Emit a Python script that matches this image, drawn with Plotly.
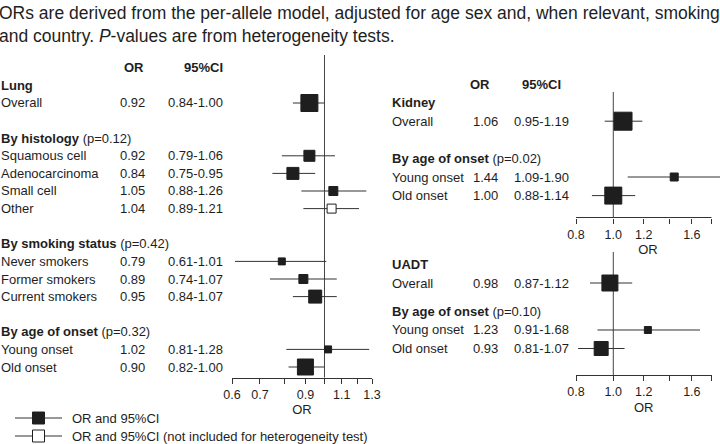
import math
import plotly.graph_objects as go

W, H = 720, 444

# ---------------- data ----------------
title_lines = [
    "ORs are derived from the per-allele model, adjusted for age sex and, when relevant, smoking",
    "and country. <i>P</i>-values are from heterogeneity tests.",
]
column_headers = ["OR", "95%CI"]

lung_groups = ["Lung", "By histology", "By smoking status", "By age of onset"]
lung_group_p = ["", "(p=0.12)", "(p=0.42)", "(p=0.32)"]
lung_labels = ["Overall", "Squamous cell", "Adenocarcinoma", "Small cell", "Other",
               "Never smokers", "Former smokers", "Current smokers", "Young onset", "Old onset"]
lung_group_of = [0, 1, 1, 1, 1, 2, 2, 2, 3, 3]
lung_or = [0.92, 0.92, 0.84, 1.05, 1.04, 0.79, 0.89, 0.95, 1.02, 0.90]
lung_lo = [0.84, 0.79, 0.75, 0.88, 0.89, 0.61, 0.74, 0.84, 0.81, 0.82]
lung_hi = [1.00, 1.06, 0.95, 1.26, 1.21, 1.01, 1.07, 1.07, 1.28, 1.00]
lung_in_test = [True, True, True, True, False, True, True, True, True, True]

kidney_groups = ["Kidney", "By age of onset"]
kidney_group_p = ["", "(p=0.02)"]
kidney_labels = ["Overall", "Young onset", "Old onset"]
kidney_group_of = [0, 1, 1]
kidney_or = [1.06, 1.44, 1.00]
kidney_lo = [0.95, 1.09, 0.88]
kidney_hi = [1.19, 1.90, 1.14]
kidney_in_test = [True, True, True]

uadt_groups = ["UADT", "By age of onset"]
uadt_group_p = ["", "(p=0.10)"]
uadt_labels = ["Overall", "Young onset", "Old onset"]
uadt_group_of = [0, 1, 1]
uadt_or = [0.98, 1.23, 0.93]
uadt_lo = [0.87, 0.91, 0.81]
uadt_hi = [1.12, 1.68, 1.07]
uadt_in_test = [True, True, True]

lung_ticks = [0.6, 0.7, 0.8, 0.9, 1.0, 1.1, 1.2, 1.3]
lung_tick_labels = ["0.6", "0.7", "", "0.9", "", "1.1", "", "1.3"]
right_ticks = [0.8, 1.0, 1.2, 1.4, 1.6, 1.8]
right_tick_labels = ["0.8", "1.0", "1.2", "", "1.6", ""]

legend_labels = ["OR and 95%CI", "OR and 95%CI (not included for heterogeneity test)"]

# ---------------- style ----------------
FONT = "Liberation Sans, Arial, Helvetica, sans-serif"
INK = "#1e1e1e"
LINE = "#333333"
FS = 13

lung_box = [17, 11, 12, 9, 9, 7, 9, 13, 7, 16]
kidney_box = [18, 8, 17]
uadt_box = [16, 7, 14]


def assign_rows(group_of, n_groups, start, gap):
    title_rows, item_rows = [], []
    r = start
    for g in range(n_groups):
        if g > 0:
            r += gap
        title_rows.append(r)
        for gg in group_of:
            if gg == g:
                r += 1
                item_rows.append(r)
    return title_rows, item_rows


# panel geometry in pixels
panels = [
    dict(key="lung", ax="", groups=lung_groups, gp=lung_group_p, labels=lung_labels,
         gof=lung_group_of, orv=lung_or, lo=lung_lo, hi=lung_hi, intest=lung_in_test,
         box=lung_box, header=True, start=1, gap=2,
         p0=67.8, step=17.6, pax=377.5, ptop=55,
         xlo=0.6, xhi=1.3, px0=232, px1=372, xend=1.3,
         ticks=lung_ticks, tlabels=lung_tick_labels,
         colx=[1, 147, 225], headx=[146, 225]),
    dict(key="kidney", ax="2", groups=kidney_groups, gp=kidney_group_p, labels=kidney_labels,
         gof=kidney_group_of, orv=kidney_or, lo=kidney_lo, hi=kidney_hi, intest=kidney_in_test,
         box=kidney_box, header=True, start=1, gap=2,
         p0=84, step=18.6, pax=217.5, ptop=92,
         xlo=0.8, xhi=1.8, px0=576, px1=711.5, xend=None,
         ticks=right_ticks, tlabels=right_tick_labels,
         colx=[392, 500, 571], headx=[492, 563]),
    dict(key="uadt", ax="3", groups=uadt_groups, gp=uadt_group_p, labels=uadt_labels,
         gof=uadt_group_of, orv=uadt_or, lo=uadt_lo, hi=uadt_hi, intest=uadt_in_test,
         box=uadt_box, header=False, start=0, gap=1.54,
         p0=264.5, step=18.5, pax=375, ptop=252,
         xlo=0.8, xhi=1.8, px0=576, px1=711.5, xend=1.8,
         ticks=right_ticks, tlabels=right_tick_labels,
         colx=[392, 500, 571], headx=[492, 563]),
]

fig = go.Figure()
annotations = []
shapes = []
layout_axes = {}
TXT_SHIFT = -2  # compensate annotation padding

for p in panels:
    ax = p["ax"]
    xname, yname = "x" + ax, "y" + ax
    title_rows, item_rows = assign_rows(p["gof"], len(p["groups"]), p["start"], p["gap"])

    ppd = (p["px1"] - p["px0"]) / (math.log10(p["xhi"]) - math.log10(p["xlo"]))
    dom_end_px = W if p["xend"] is None else p["px1"]
    r0 = math.log10(p["xlo"])
    r1 = r0 + (dom_end_px - p["px0"]) / ppd
    xdom = [p["px0"] / W, dom_end_px / W]

    # y domain must contain every text row (annotations outside the range are hidden)
    dom_top_px = min(p["ptop"], p["p0"] - 12)
    yb = (p["pax"] - p["p0"]) / p["step"]
    yt = (dom_top_px - p["p0"]) / p["step"]
    ydom = [1 - p["pax"] / H, 1 - dom_top_px / H]
    line_top = (p["pax"] - p["ptop"]) / (p["pax"] - dom_top_px)

    layout_axes["xaxis" + ax] = dict(
        type="log", range=[r0, r1], domain=xdom, anchor=yname,
        showline=(p["xend"] is not None), linecolor=LINE, linewidth=1,
        ticks="outside", ticklen=5, tickcolor=LINE, tickwidth=1,
        tickvals=p["ticks"], ticktext=p["tlabels"],
        tickfont=dict(family=FONT, size=12.5, color=INK),
        showgrid=False, zeroline=False, fixedrange=True, automargin=False,
        title=dict(text="OR", font=dict(family=FONT, size=13, color=INK), standoff=4),
    )
    layout_axes["yaxis" + ax] = dict(
        range=[yb, yt], domain=ydom, anchor=xname, visible=False, automargin=False,
        showgrid=False, zeroline=False, fixedrange=True,
    )

    xref_dom = xname + " domain"
    yref_dom = yname + " domain"
    span = r1 - r0
    if p["xend"] is None:
        shapes.append(dict(type="line", xref=xref_dom, yref=yref_dom,
                           x0=0, x1=(math.log10(p["xhi"]) - r0) / span, y0=0, y1=0,
                           line=dict(color=LINE, width=1)))
    f1 = (0 - r0) / span
    shapes.append(dict(type="line", xref=xref_dom, yref=yref_dom,
                       x0=f1, x1=f1, y0=0, y1=line_top, layer="below",
                       line=dict(color="#444444", width=1)))

    cx, cy = [], []
    for lo, hi, r in zip(p["lo"], p["hi"], item_rows):
        cx += [lo, hi, None]
        cy += [r, r, None]
    fig.add_trace(go.Scatter(x=cx, y=cy, mode="lines", xaxis=xname, yaxis=yname,
                             line=dict(color=LINE, width=1), hoverinfo="skip",
                             showlegend=False))
    fill = [INK if t else "white" for t in p["intest"]]
    fig.add_trace(go.Scatter(
        x=p["orv"], y=item_rows, mode="markers", xaxis=xname, yaxis=yname,
        marker=dict(symbol="square", size=p["box"], color=fill, opacity=1,
                    line=dict(color=INK, width=1)),
        text=p["labels"], hovertemplate="%{text}: OR %{x}<extra></extra>",
        showlegend=False))

    lx, orx, cix = [c / W for c in p["colx"]]
    yr = yname
    font = dict(family=FONT, size=FS, color=INK)
    if p["header"]:
        annotations.append(dict(text="<b>%s</b>" % column_headers[0], x=p["headx"][0] / W,
                                xanchor="right", y=0, yref=yr, xref="paper",
                                showarrow=False, font=font))
        annotations.append(dict(text="<b>%s</b>" % column_headers[1], x=p["headx"][1] / W,
                                xanchor="right", y=0, yref=yr, xref="paper",
                                showarrow=False, font=font))
    for g, r in enumerate(title_rows):
        t = "<b>%s</b>" % p["groups"][g]
        if p["gp"][g]:
            t += " " + p["gp"][g]
        annotations.append(dict(text=t, x=lx, xanchor="left", xshift=TXT_SHIFT, y=r,
                                yref=yr, xref="paper", showarrow=False, font=font))
    for lab, o, lo, hi, r in zip(p["labels"], p["orv"], p["lo"], p["hi"], item_rows):
        annotations.append(dict(text=lab, x=lx, xanchor="left", xshift=TXT_SHIFT, y=r,
                                yref=yr, xref="paper", showarrow=False, font=font))
        annotations.append(dict(text="%.2f" % o, x=orx, xanchor="right", y=r, yref=yr,
                                xref="paper", showarrow=False, font=font))
        annotations.append(dict(text="%.2f-%.2f" % (lo, hi), x=cix, xanchor="right", y=r,
                                yref=yr, xref="paper", showarrow=False, font=font))

# ---------------- key (legend) ----------------
kx0, kx1 = 15, 62
krow0, kstep = 418, 18
layout_axes["xaxis4"] = dict(domain=[kx0 / W, kx1 / W], range=[0, 1], anchor="y4",
                             visible=False, fixedrange=True, automargin=False)
layout_axes["yaxis4"] = dict(domain=[0, 40 / H],
                             range=[(H - krow0) / kstep, (404 - krow0) / kstep],
                             anchor="x4", visible=False, fixedrange=True, automargin=False)
for i, (lab, filled) in enumerate(zip(legend_labels, [True, False])):
    fig.add_trace(go.Scatter(x=[0, 1], y=[i, i], mode="lines", xaxis="x4", yaxis="y4",
                             line=dict(color=LINE, width=1), hoverinfo="skip",
                             showlegend=False))
    fig.add_trace(go.Scatter(x=[0.5], y=[i], mode="markers", xaxis="x4", yaxis="y4",
                             marker=dict(symbol="square", size=12,
                                         color=INK if filled else "white",
                                         line=dict(color=INK, width=1)),
                             hoverinfo="skip", showlegend=False))
    annotations.append(dict(text=lab, x=72 / W, xanchor="left", xshift=TXT_SHIFT,
                            xref="paper", y=i, yref="y4", showarrow=False,
                            font=dict(family=FONT, size=FS, color=INK)))

# ---------------- title text ----------------
annotations.append(dict(text="<br>".join(title_lines), x=0, xanchor="left", xref="paper",
                        xshift=-3, y=1, yanchor="top", yref="paper", yshift=-1, align="left",
                        showarrow=False, font=dict(family=FONT, size=17.5, color=INK)))

fig.update_layout(
    width=W, height=H,
    autosize=False,
    margin=dict(l=0, r=0, t=0, b=0, pad=0, autoexpand=False),
    paper_bgcolor="white", plot_bgcolor="rgba(0,0,0,0)",
    font=dict(family=FONT, size=FS, color=INK),
    showlegend=False,
    annotations=annotations,
    shapes=shapes,
    **layout_axes,
)

fig.write_html(
    "out.html",
    config={"displayModeBar": False, "responsive": False},
    post_script=(
        "document.documentElement.style.margin='0';"
        "document.documentElement.style.overflow='hidden';"
        "document.body.style.margin='0';document.body.style.padding='0';"
        "document.body.style.overflow='hidden';"
    ),
)
